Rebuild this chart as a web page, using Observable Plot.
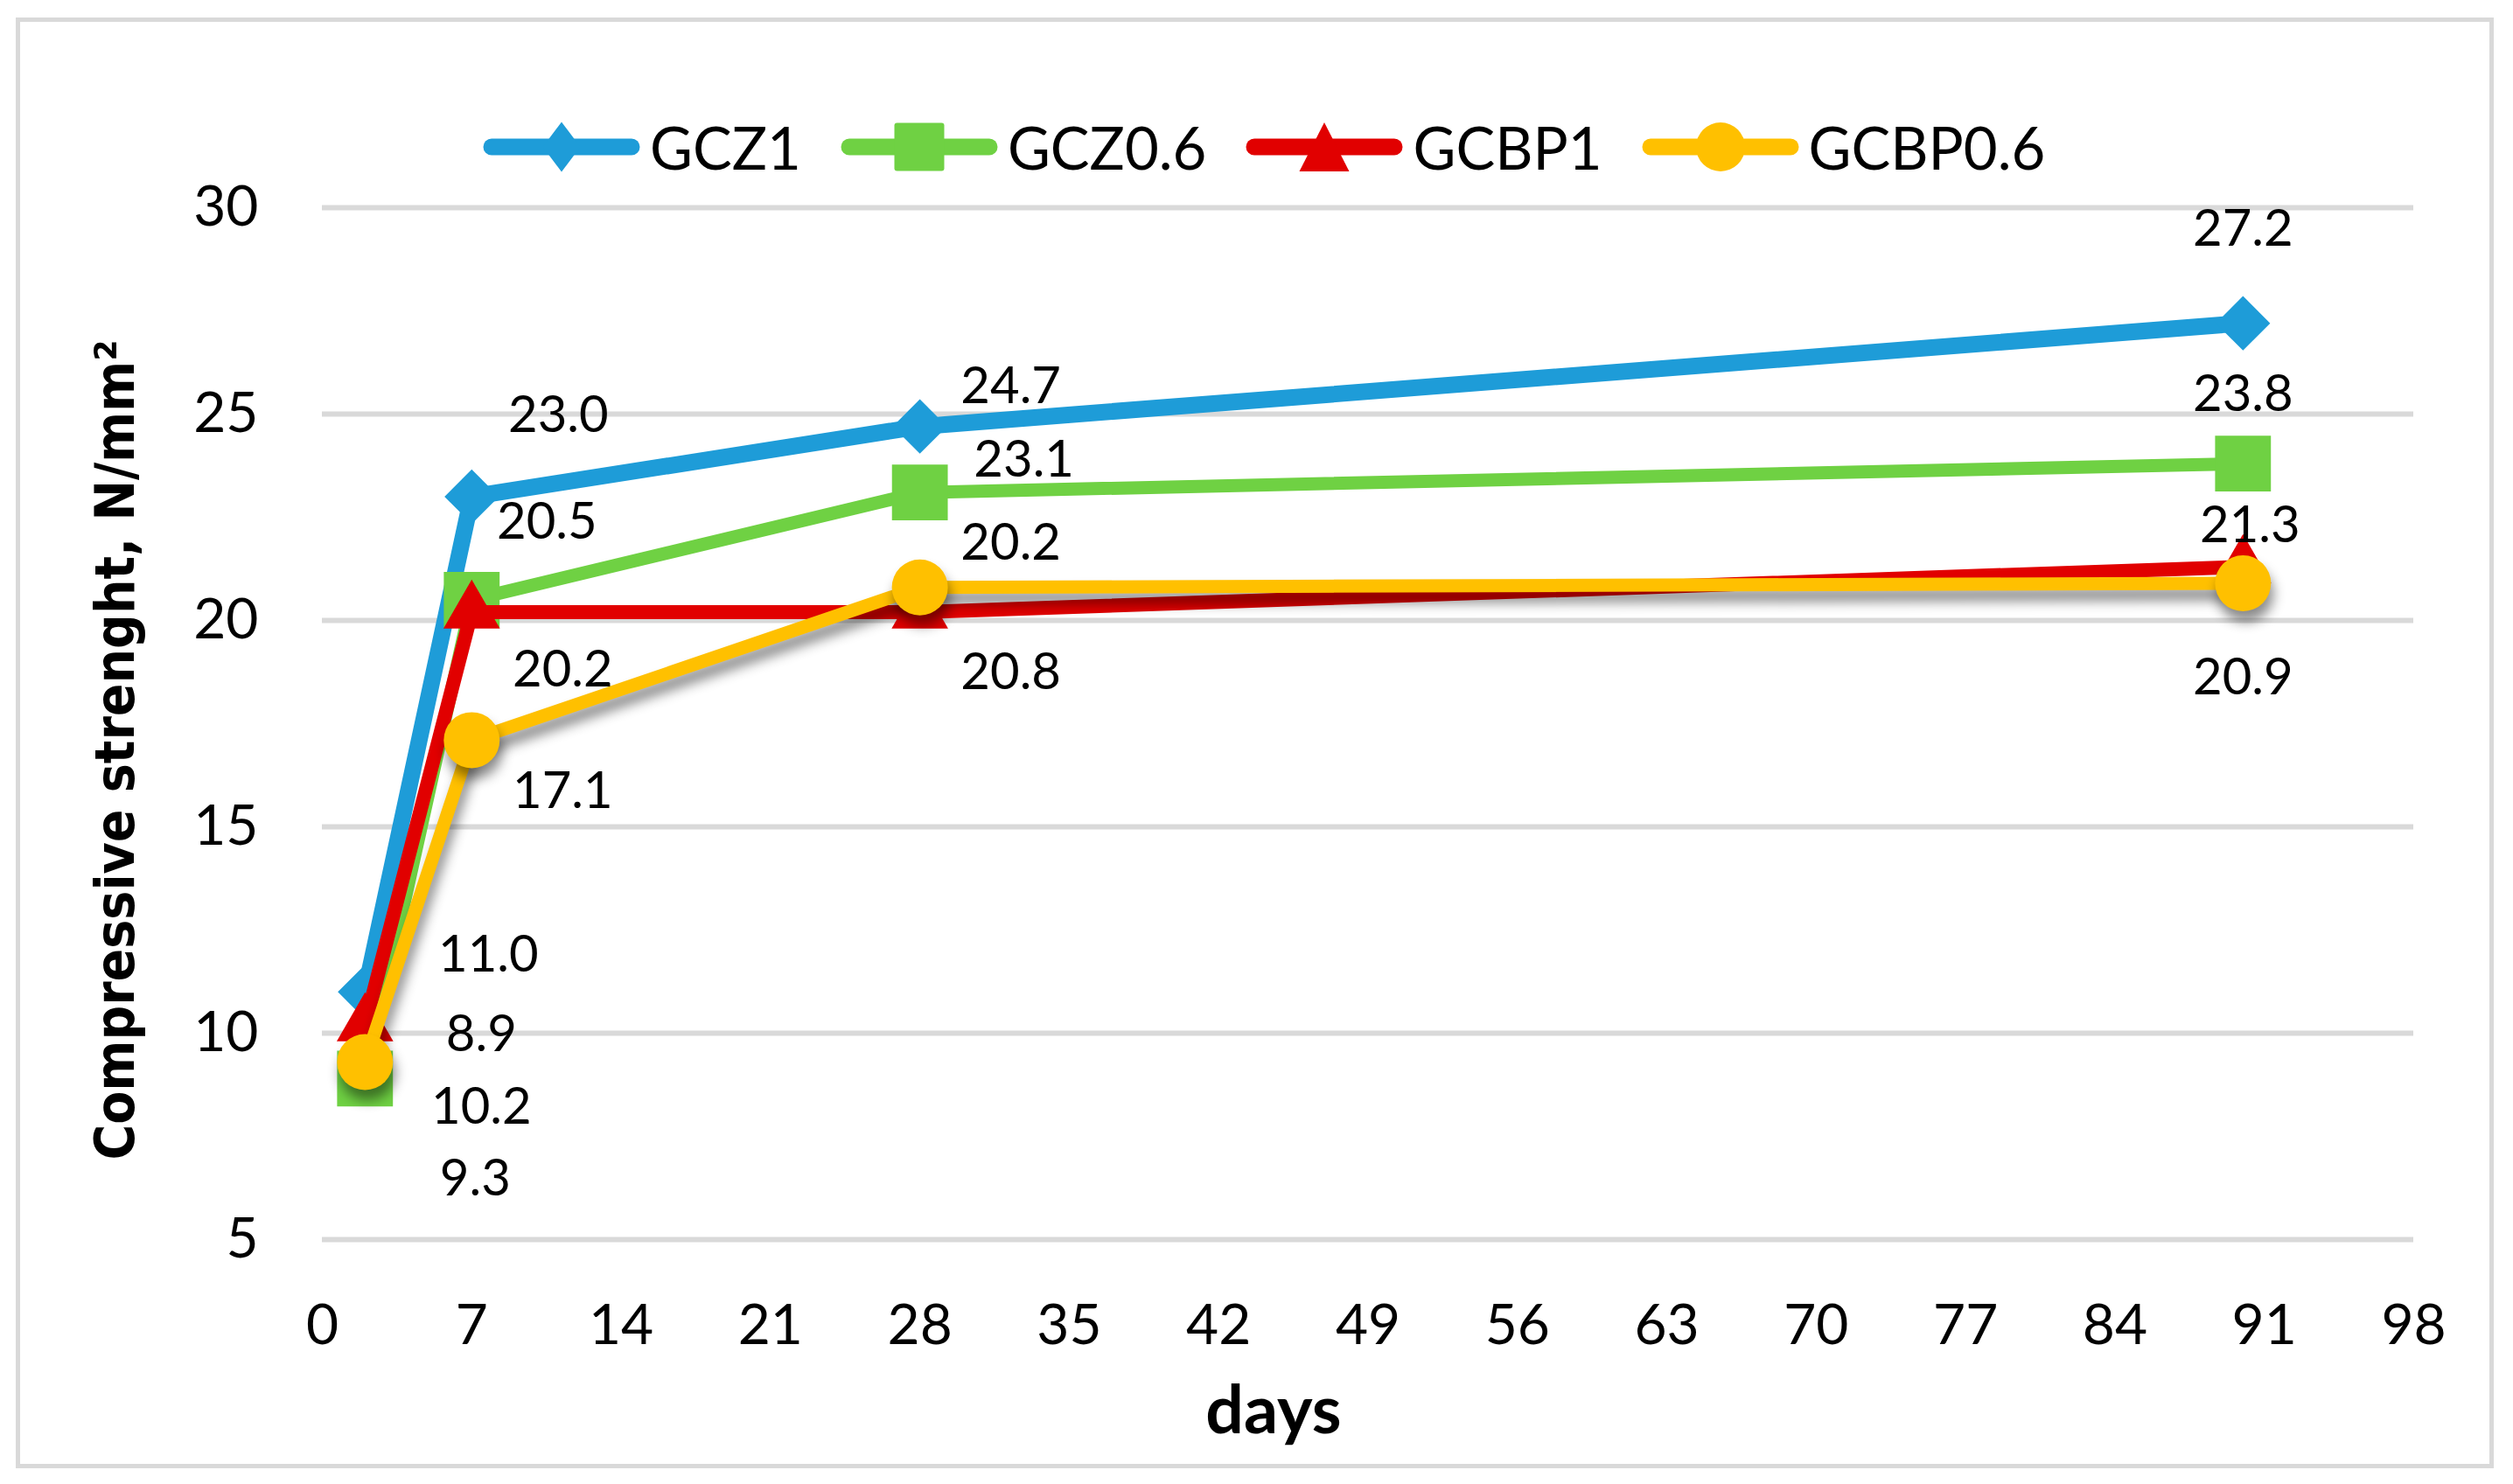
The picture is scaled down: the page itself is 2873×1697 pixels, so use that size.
<!DOCTYPE html>
<html><head><meta charset="utf-8">
<script src="https://cdn.jsdelivr.net/npm/d3@7"></script>
<script src="https://cdn.jsdelivr.net/npm/@observablehq/plot@0.6"></script>
<style>
html,body{margin:0;padding:0;background:#fff;width:2873px;height:1697px;overflow:hidden;font-family:Lato,"Open Sans",sans-serif;color:#000;}
#frame{position:absolute;left:18px;top:20px;width:2823px;height:1649px;border:5px solid #d9d9d9;}
#legend{position:absolute;left:552px;top:128px;height:80px;display:flex;align-items:center;}
.item{display:flex;align-items:center;margin-right:45px;}
.item svg{display:block;margin-right:11px;}
.item span{font-family:Lato,sans-serif;font-size:67px;line-height:80px;}
#chart{position:absolute;left:0;top:200px;}
</style>
</head><body>
<div id="frame"></div>
<div id="legend"></div>
<div id="chart"></div>
<script>
// ---- data ----
const days = [2, 7, 28, 90];
const seriesNames = ["GCZ1", "GCZ0.6", "GCBP1", "GCBP0.6"];
const gcz1   = [11.0, 23.0, 24.7, 27.2];
const gcz06  = [8.9, 20.5, 23.1, 23.8];
const gcbp1  = [10.2, 20.2, 20.2, 21.3];
const gcbp06 = [9.3, 17.1, 20.8, 20.9];
const xTicks = [0, 7, 14, 21, 28, 35, 42, 49, 56, 63, 70, 77, 84, 91, 98];
const yTicks = [5, 10, 15, 20, 25, 30];
const xLabel = "days";
const yLabel = "Compressive strenght, N/mm²";

// ---- styles (kept apart from the data) ----
const colors  = ["#1E9CD8", "#6FD143", "#E10000", "#FFC000"];
const widths  = [19, 15, 16, 15];
const symbols = ["diamond2", "square", "triangle", "circle"];
const radii   = [28, 36, 24, 32];
// data-label offsets in pixels, [dx, dy] per point
const labelOffsets = [
  [[141, -42], [99, -92], [104, -45], [0, -107]],
  [[133, -50], [86, -88], [119, -37], [0, -79]],
  [[133, 94], [104, 66], [104, -79], [8, -47]],
  [[126, 134], [104, 59], [104, 98], [0, 108]]
];

const values = [gcz1, gcz06, gcbp1, gcbp06];
const rows = seriesNames.map((s, i) => days.map((d, j) => ({series: s, day: d, value: values[i][j]})));

const marks = [
  Plot.gridY(yTicks, {stroke: "#d9d9d9", strokeOpacity: 1, strokeWidth: 6}),
  Plot.axisX(xTicks, {tickSize: 0, tickPadding: 74, fontSize: 64, label: null}),
  Plot.axisY(yTicks, {tickSize: 0, tickPadding: 73, fontSize: 64, label: null})
];
rows.forEach((r, i) => {
  marks.push(Plot.line(r, {x: "day", y: "value", stroke: colors[i], strokeWidth: widths[i], strokeLinejoin: "round", strokeLinecap: "round"}));
  marks.push(Plot.dot(r, {x: "day", y: "value", symbol: symbols[i], r: radii[i], fill: colors[i], stroke: "none"}));
});
rows.forEach((r, i) => {
  r.forEach((p, j) => {
    marks.push(Plot.text([p], {x: "day", y: "value", text: d => d.value.toFixed(1), dx: labelOffsets[i][j][0], dy: labelOffsets[i][j][1], fontSize: 58, fill: "#000"}));
  });
});
marks.push(Plot.text([xLabel], {frameAnchor: "bottom", lineAnchor: "middle", textAnchor: "middle", dx: -108, dy: 197, fontSize: 77, fontWeight: "bold", fill: "#000"}));
marks.push(Plot.text([yLabel], {frameAnchor: "left", textAnchor: "middle", lineAnchor: "middle", rotate: -90, dx: -235, dy: 30, fontSize: 62, fontWeight: "bold", fontFamily: "DejaVu Sans", fill: "#000"}));

const plot = Plot.plot({
  width: 2873,
  height: 1470,
  marginLeft: 368,
  marginRight: 114,
  marginTop: 37,
  marginBottom: 253,
  x: {domain: [0, 98], axis: null},
  y: {domain: [5, 30], axis: null},
  style: {fontFamily: "Lato, 'Open Sans', sans-serif", fontSize: "64px", background: "transparent", color: "#000", overflow: "visible"},
  marks
});
document.getElementById("chart").appendChild(plot);

// shadow on the last series, as in the original
d3.select(plot).selectAll(`g[stroke="${colors[3]}"], g[fill="${colors[3]}"]`)
  .style("filter", "drop-shadow(3px 12px 7px rgba(0,0,0,0.45))");
// fit the rotated y title to its length in the original
d3.select(plot).selectAll("text").filter(function(){ return this.textContent === yLabel; })
  .attr("textLength", 938).attr("lengthAdjust", "spacingAndGlyphs");

// ---- legend ----
const legend = d3.select("#legend");
seriesNames.forEach((s, i) => {
  const item = legend.append("div").attr("class", "item");
  const svg = item.append("svg").attr("width", 180).attr("height", 80);
  svg.append("line").attr("x1", 10).attr("x2", 170).attr("y1", 40).attr("y2", 40)
    .attr("stroke", colors[i]).attr("stroke-width", 19).attr("stroke-linecap", "round");
  if (symbols[i] === "diamond2") {
    svg.append("polygon").attr("points", "90,11.5 111.5,40 90,68.5 68.5,40").attr("fill", colors[i]);
  } else if (symbols[i] === "square") {
    svg.append("rect").attr("x", 61.5).attr("y", 12.5).attr("width", 57).attr("height", 55).attr("rx", 3).attr("fill", colors[i]);
  } else if (symbols[i] === "triangle") {
    svg.append("polygon").attr("points", "90,12 118.5,68 61.5,68").attr("fill", colors[i]);
  } else {
    svg.append("circle").attr("cx", 90).attr("cy", 40).attr("r", 28).attr("fill", colors[i]);
  }
  item.append("span").text(s);
});
</script>
</body></html>
